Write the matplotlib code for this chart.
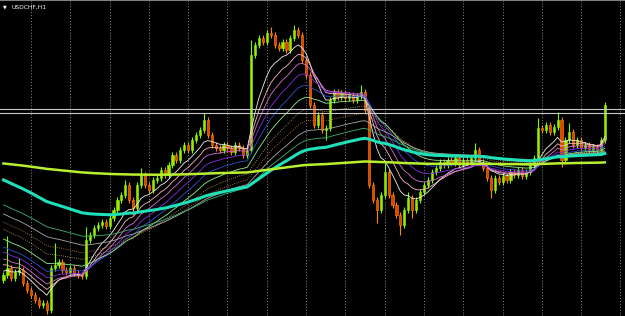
import matplotlib
matplotlib.use('Agg')
import matplotlib.pyplot as plt
import numpy as np

# USDCHF H1 closes (bar 0 = left edge)
closes = [0.9065, 0.9072, 0.9062, 0.9068, 0.9070, 0.9057, 0.9050, 0.9045, 0.9040, 0.9035,
          0.9037, 0.9030, 0.9072, 0.9075, 0.9078, 0.9070, 0.9068, 0.9072, 0.9067, 0.9065,
          0.9064, 0.9100, 0.9105, 0.9112, 0.9115, 0.9118, 0.9114, 0.9122, 0.9130, 0.9140,
          0.9145, 0.9155, 0.9140, 0.9132, 0.9155, 0.9165, 0.9155, 0.9150, 0.9160, 0.9162,
          0.9170, 0.9165, 0.9175, 0.9185, 0.9180, 0.9190, 0.9195, 0.9190, 0.9200, 0.9205,
          0.9210, 0.9220, 0.9205, 0.9195, 0.9192, 0.9190, 0.9195, 0.9192, 0.9188, 0.9195,
          0.9192, 0.9185, 0.9190, 0.9285, 0.9295, 0.9302, 0.9298, 0.9307, 0.9305, 0.9295,
          0.9292, 0.9298, 0.9290, 0.9302, 0.9310, 0.9305, 0.9280, 0.9265, 0.9235, 0.9215,
          0.9225, 0.9210, 0.9212, 0.9240, 0.9248, 0.9243, 0.9247, 0.9242, 0.9245, 0.9240,
          0.9244, 0.9248, 0.9230, 0.9155, 0.9140, 0.9130, 0.9145, 0.9168, 0.9145, 0.9135,
          0.9125, 0.9115, 0.9130, 0.9142, 0.9130, 0.9140, 0.9148, 0.9155, 0.9160, 0.9168,
          0.9172, 0.9178, 0.9175, 0.9180, 0.9177, 0.9182, 0.9175, 0.9180, 0.9178, 0.9182,
          0.9190, 0.9178, 0.9172, 0.9162, 0.9150, 0.9162, 0.9158, 0.9164, 0.9160, 0.9168,
          0.9165, 0.9170, 0.9164, 0.9168, 0.9175, 0.9182, 0.9212, 0.9210, 0.9215, 0.9208,
          0.9213, 0.9220, 0.9180, 0.9200, 0.9208, 0.9195, 0.9200, 0.9192, 0.9195, 0.9190,
          0.9193, 0.9190, 0.9200, 0.9235]
first_open = 0.9060

# long wicks that stand out
high_spikes = {1: 0.9104, 4: 0.9082, 13: 0.9097, 21: 0.9113, 31: 0.9160, 35: 0.9172,
               51: 0.9227, 63: 0.9300, 68: 0.9313, 74: 0.9315, 91: 0.9255, 97: 0.9177,
               103: 0.9148, 120: 0.9197, 136: 0.9222, 141: 0.9228, 144: 0.9217, 153: 0.9238}
low_spikes = {11: 0.9026, 33: 0.9125, 82: 0.9200, 95: 0.9117, 101: 0.9105,
              104: 0.9122, 124: 0.9142, 142: 0.9173}

# moving averages: period, value at left edge, colour, style
ma_periods = [9, 13, 17, 22, 28, 35, 43, 52, 62, 74]
ma_start = [0.9070, 0.9077, 0.9083, 0.9090, 0.9095, 0.9103, 0.9113, 0.9120, 0.9128, 0.9137]
ma_colors = ['#F0F0F0', '#FFB6C1', '#DA70D6', '#8A2BE2', '#3050D0',
             '#90EE90', '#BDB76B', '#CD853F', '#A9A9A9', '#3CB371']
ma_styles = ['-', '-', '-', '-', '-', '-', ':', ':', '-', '-']

slow_periods = [100, 500]
slow_start = [0.9162, 0.9177]
slow_colors = ['#1FE0B8', '#B8F030']

bid_ask = [0.9231, 0.9227]
title = 'USDCHF,H1'


def ema(values, period, start):
    a = 2.0 / (period + 1)
    out = []
    cur = start
    for v in values:
        cur = cur + a * (v - cur)
        out.append(cur)
    return out


if __name__ == '__main__':
    n = len(closes)
    x = np.arange(n)
    opens = [first_open] + closes[:-1]
    highs = [max(o, c) + 0.0003 for o, c in zip(opens, closes)]
    lows = [min(o, c) - 0.0003 for o, c in zip(opens, closes)]
    for i, v in high_spikes.items():
        highs[i] = v
    for i, v in low_spikes.items():
        lows[i] = v

    fig = plt.figure(figsize=(6.25, 3.16), dpi=100)
    fig.patch.set_facecolor('black')
    ax = fig.add_axes([0, 0, 1, 1])
    ax.set_facecolor('black')

    # vertical grid
    for g in range(7, 160, 10):
        ax.axvline(g, color='#8a8a8a', lw=0.7, ls=(0, (1, 2)), zorder=0)

    # candles
    up = [c >= o for o, c in zip(opens, closes)]
    wick_cols = ['#7CFC00' if u else '#FF8C00' for u in up]
    body_cols = ['#B0E000' if u else '#E84000' for u in up]
    ax.vlines(x, lows, highs, colors=wick_cols, lw=0.8, zorder=2)
    bottoms = [min(o, c) for o, c in zip(opens, closes)]
    heights = [max(abs(c - o), 0.00008) for o, c in zip(opens, closes)]
    ax.bar(x, heights, bottom=bottoms, width=0.55, color=body_cols,
           edgecolor=wick_cols, lw=0.4, zorder=3)

    # thin moving averages
    for p, s, col, ls in zip(ma_periods, ma_start, ma_colors, ma_styles):
        ax.plot(x, ema(closes, p, s), color=col, lw=0.6, ls=ls, zorder=4)

    # thick ones
    ax.plot(x, ema(closes, slow_periods[0], slow_start[0]), color=slow_colors[0], lw=2.2, zorder=5)
    ax.plot(x, ema(closes, slow_periods[1], slow_start[1]), color=slow_colors[1], lw=1.8, zorder=5)

    for y in bid_ask:
        ax.axhline(y, color='#C8C8C8', lw=0.8, zorder=6)

    ax.set_xlim(-0.89, 158.15)
    ax.set_ylim(0.9340 - 0.0316, 0.9340)
    ax.set_xticks([])
    ax.set_yticks([])
    for sp in ['left', 'right', 'bottom']:
        ax.spines[sp].set_visible(False)
    ax.spines['top'].set_color('#808080')
    ax.spines['top'].set_linewidth(1.5)

    ax.text(3, 309, '\u25BC', transform=None, color='white', fontsize=3.5, va='center')
    ax.text(11, 309, title, transform=None, color='white', fontsize=4.3, va='center')

    fig.savefig('out.png', dpi=100, facecolor='black')
